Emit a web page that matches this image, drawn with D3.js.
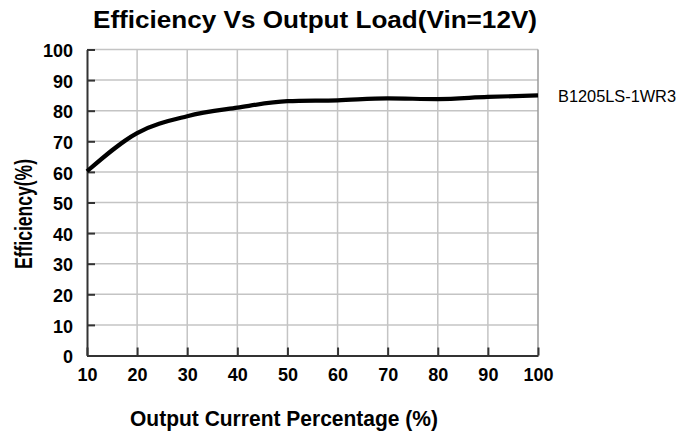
<!DOCTYPE html>
<html><head><meta charset="utf-8">
<script src="https://cdn.jsdelivr.net/npm/d3@7"></script>
<style>body{margin:0;background:#fff}svg{display:block}text{font-family:"Liberation Sans",Arial,sans-serif}</style>
</head><body>
<svg id="c" width="695" height="436"></svg>
<script>
const loadPct = [10, 20, 30, 40, 50, 60, 70, 80, 90, 100];
const efficiency = [60.2, 72.7, 78.2, 81.0, 83.1, 83.4, 84.0, 83.8, 84.5, 85.0];
const xTicks = [10, 20, 30, 40, 50, 60, 70, 80, 90, 100];
const yTicks = [0, 10, 20, 30, 40, 50, 60, 70, 80, 90, 100];
const seriesName = "B1205LS-1WR3";
const titleText = "Efficiency Vs Output Load(Vin=12V)";
const xLabel = "Output Current Percentage (%)";
const yLabel = "Efficiency(%)";

const svg = d3.select("#c");
const L = 87, R = 538, T = 49.5, B = 355.5;
const x = d3.scaleLinear().domain([10, 100]).range([L, R]);
const y = d3.scaleLinear().domain([0, 100]).range([B, T]);

// grid
svg.append("g").selectAll("line").data(xTicks.slice(1, -1)).join("line")
  .attr("x1", d => x(d)).attr("x2", d => x(d)).attr("y1", T).attr("y2", B)
  .attr("stroke", "#c4c4c4").attr("stroke-width", 1.5);
svg.append("g").selectAll("line").data(yTicks.slice(1)).join("line")
  .attr("x1", L).attr("x2", R).attr("y1", d => y(d)).attr("y2", d => y(d))
  .attr("stroke", "#c4c4c4").attr("stroke-width", 1.5);
// right border
svg.append("line").attr("x1", R).attr("x2", R).attr("y1", T).attr("y2", B)
  .attr("stroke", "#9a9a9a").attr("stroke-width", 1.5);

// axes
const xAxis = d3.axisBottom(x).tickValues(xTicks).tickSizeInner(-8).tickSizeOuter(0).tickPadding(13);
const yAxis = d3.axisLeft(y).tickValues(yTicks).tickSizeInner(-8).tickSizeOuter(0).tickPadding(14);
const gx = svg.append("g").attr("transform", `translate(0,${B})`).call(xAxis);
const gy = svg.append("g").attr("transform", `translate(${L},0)`).call(yAxis);
[gx, gy].forEach(g => {
  g.select(".domain").attr("stroke", "#333").attr("stroke-width", 2);
  g.selectAll(".tick line").attr("stroke", "#333").attr("stroke-width", 2);
  g.selectAll(".tick text").attr("fill", "#000").attr("font-size", 18).attr("font-weight", "bold")
    .attr("font-family", '"Liberation Sans",Arial,sans-serif');
});
gx.selectAll(".tick text").attr("dy", "0.71em");
gy.selectAll(".tick text").attr("dy", "0.4em");

// line
const line = d3.line().x((d, i) => x(loadPct[i])).y(d => y(d)).curve(d3.curveMonotoneX);
svg.append("path").datum(efficiency).attr("d", line)
  .attr("fill", "none").attr("stroke", "#000").attr("stroke-width", 4.2).attr("stroke-linejoin", "round");

// texts
svg.append("text").text(titleText).attr("x", 315).attr("y", 28).attr("text-anchor", "middle")
  .attr("font-size", 24).attr("font-weight", "bold").attr("textLength", 444).attr("lengthAdjust", "spacingAndGlyphs");
svg.append("text").text(seriesName).attr("x", 558).attr("y", 102)
  .attr("font-size", 17).attr("textLength", 118).attr("lengthAdjust", "spacingAndGlyphs");
svg.append("text").text(xLabel).attr("x", 284).attr("y", 426).attr("text-anchor", "middle")
  .attr("font-size", 22).attr("font-weight", "bold").attr("textLength", 308).attr("lengthAdjust", "spacingAndGlyphs");
svg.append("text").text(yLabel).attr("transform", "translate(32,214) rotate(-90)").attr("text-anchor", "middle")
  .attr("font-size", 23).attr("font-weight", "bold").attr("textLength", 110).attr("lengthAdjust", "spacingAndGlyphs");
</script>
</body></html>
